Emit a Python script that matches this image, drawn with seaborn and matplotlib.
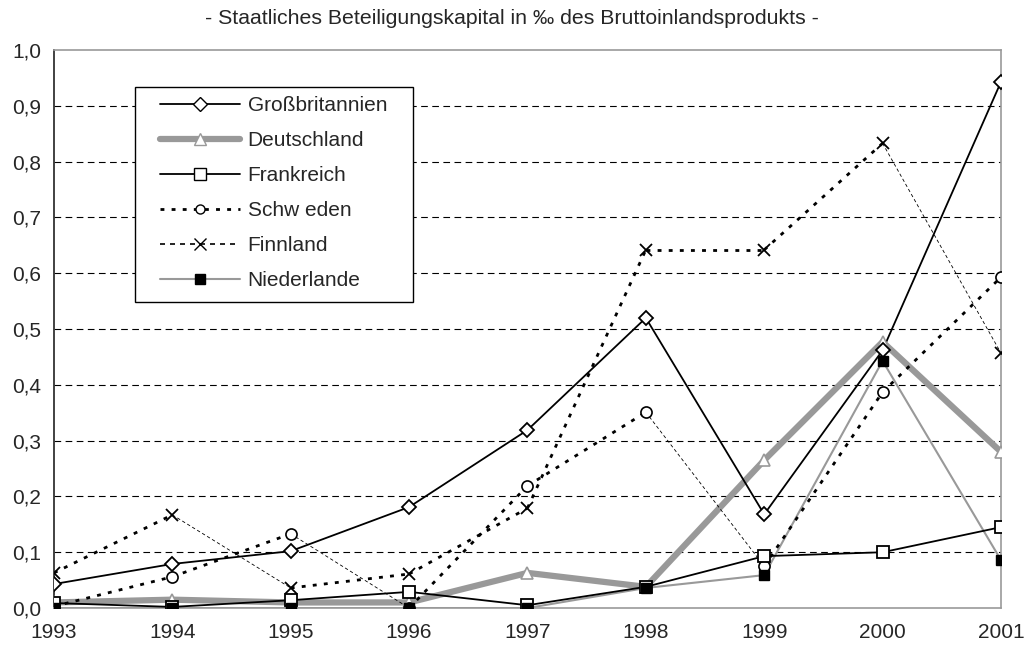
import numpy as np
import matplotlib
matplotlib.use("Agg")
import matplotlib.pyplot as plt
import seaborn as sns
from matplotlib.lines import Line2D
from matplotlib.patches import Rectangle

# data (per mille of GDP)
years = [1993, 1994, 1995, 1996, 1997, 1998, 1999, 2000, 2001]
year_labels = [str(y) for y in years]
grossbritannien = [0.043, 0.079, 0.102, 0.181, 0.319, 0.520, 0.168, 0.462, 0.943]
deutschland = [0.010, 0.015, 0.010, 0.010, 0.063, 0.038, 0.265, 0.477, 0.280]
frankreich = [0.009, 0.002, 0.014, 0.029, 0.005, 0.038, 0.093, 0.100, 0.145]
schweden = [0.003, 0.056, 0.133, 0.000, 0.219, 0.351, 0.075, 0.387, 0.593]
finnland = [0.063, 0.167, 0.036, 0.061, 0.179, 0.642, 0.642, 0.833, 0.457]
niederlande = [0.000, 0.000, 0.000, 0.000, 0.000, 0.036, 0.059, 0.443, 0.086]
# segments (start index) that the original renders as thin hairlines
schweden_thin = [2, 5]
finnland_thin = [1, 7]

y_ticks = [0.0, 0.1, 0.2, 0.3, 0.4, 0.5, 0.6, 0.7, 0.8, 0.9, 1.0]
y_labels = ["0,0", "0,1", "0,2", "0,3", "0,4", "0,5", "0,6", "0,7", "0,8", "0,9", "1,0"]
names = ["Großbritannien", "Deutschland", "Frankreich", "Schw eden", "Finnland", "Niederlande"]
title = "- Staatliches Beteiligungskapital in \u2030 des Bruttoinlandsprodukts -"

sns.set_style("white")
plt.rcParams["font.family"] = ["Liberation Sans", "DejaVu Sans"]

fig = plt.figure(figsize=(10.24, 6.51), dpi=100)
ax = fig.add_axes([0.0527, 0.066, 0.9248, 0.857])

GRAY = "#999999"
dot = (0, (1.4, 2.6))

# gridlines
for t in y_ticks[1:-1]:
    ax.axhline(t, color="black", lw=0.8, ls=(0, (6, 4)), zorder=0)


def plot_series(vals, thin, **kw):
    # draw segment by segment so some can be hairlines
    for i in range(len(years) - 1):
        xs = years[i:i + 2]
        ys = vals[i:i + 2]
        if i in thin:
            sns.lineplot(x=xs, y=ys, ax=ax, color="black", lw=0.6,
                         ls=(0, (4, 3)), zorder=2)
        else:
            sns.lineplot(x=xs, y=ys, ax=ax, color="black", lw=2.0,
                         ls=dot, zorder=2)
    ax.plot(years, vals, ls="none", zorder=4, **kw)


# Niederlande
sns.lineplot(x=years, y=niederlande, ax=ax, color=GRAY, lw=1.5, zorder=2)
ax.plot(years, niederlande, ls="none", marker="s", ms=6.5, mfc="black",
        mec="black", zorder=5)
# Deutschland
sns.lineplot(x=years, y=deutschland, ax=ax, color=GRAY, lw=4.5, zorder=2)
ax.plot(years, deutschland, ls="none", marker="^", ms=8.5, mfc="white",
        mec=GRAY, mew=1.2, zorder=4)
# Schweden / Finnland
plot_series(schweden, schweden_thin, marker="o", ms=8, mfc="white",
            mec="black", mew=1.2)
plot_series(finnland, finnland_thin, marker="x", ms=8.5, mec="black", mew=1.3)
# Frankreich
sns.lineplot(x=years, y=frankreich, ax=ax, color="black", lw=1.3, zorder=3)
ax.plot(years, frankreich, ls="none", marker="s", ms=8, mfc="white",
        mec="black", mew=1.3, zorder=4)
# Großbritannien
sns.lineplot(x=years, y=grossbritannien, ax=ax, color="black", lw=1.3, zorder=3)
ax.plot(years, grossbritannien, ls="none", marker="D", ms=7, mfc="white",
        mec="black", mew=1.3, zorder=5)

ax.set_xlim(years[0], years[-1])
ax.set_ylim(0, 1.0)
ax.set_xticks(years)
ax.set_xticklabels(year_labels, fontsize=15)
ax.set_yticks(y_ticks)
ax.set_yticklabels(y_labels, fontsize=15)
ax.tick_params(axis="x", length=0, pad=11)
ax.tick_params(axis="y", length=0, pad=9)
ax.set_xlabel("")
ax.set_ylabel("")

for side in ["top", "right", "bottom"]:
    ax.spines[side].set_color(GRAY)
    ax.spines[side].set_linewidth(1.2)
ax.spines["left"].set_color("#333333")
ax.spines["left"].set_linewidth(1.3)

fig.text(0.5, 0.972, title, ha="center", va="center", fontsize=15.3)

handles = [
    Line2D([], [], color="black", lw=1.3, marker="D", ms=7, mfc="white", mec="black"),
    Line2D([], [], color=GRAY, lw=4.5, marker="^", ms=8, mfc="white", mec=GRAY),
    Line2D([], [], color="black", lw=1.3, marker="s", ms=8, mfc="white", mec="black"),
    Line2D([], [], color="black", lw=2.0, ls=dot, marker="o", ms=6.5, mfc="white", mec="black"),
    Line2D([], [], color="black", lw=1.2, ls=(0, (3, 3)), marker="x", ms=8, mec="black"),
    Line2D([], [], color=GRAY, lw=1.5, marker="s", ms=7, mfc="black", mec="black"),
]
# legend box drawn separately so the padding can match the original
ax.add_patch(Rectangle((0.0855, 0.548), 0.2935, 0.386, transform=ax.transAxes,
                       facecolor="white", edgecolor="black", lw=1.0, zorder=6))
leg = ax.legend(handles, names, loc="upper left", bbox_to_anchor=(0.112, 0.918),
                borderaxespad=0, borderpad=0, fontsize=15, frameon=False,
                handlelength=3.85, labelspacing=0.77, handletextpad=0.35)
leg.set_zorder(7)

fig.savefig("out.png", dpi=100)
